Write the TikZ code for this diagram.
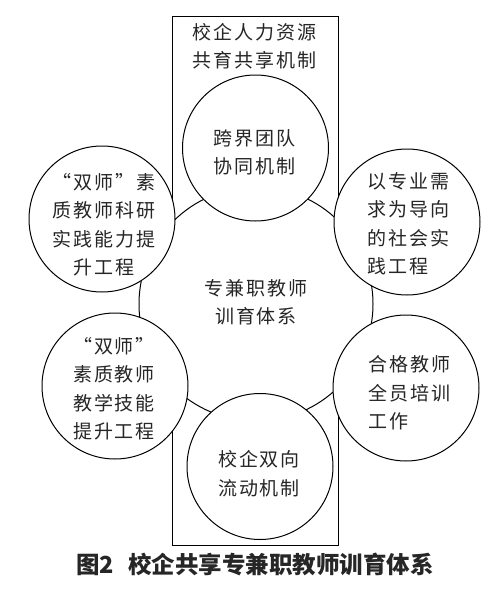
\documentclass[tikz,border=0pt]{standalone}
\usepackage{fontspec}
\setmainfont{Noto Sans CJK SC}[LetterSpace=10]
\newfontfamily\capfont{Noto Sans CJK SC}
\begin{document}
\begin{tikzpicture}[x=1pt,y=-1pt,line width=1pt,
  ring/.style={circle,draw=black,fill=white,inner sep=0pt,minimum size=146pt},
  hubring/.style={circle,draw=black,fill=white,inner sep=0pt,minimum size=234pt},
  lbl/.style={inner sep=0pt,font=\fontsize{19}{28.5}\selectfont,text=black!85},
  caplbl/.style={inner sep=0pt,font=\capfont\bfseries\fontsize{23.5}{28}\selectfont,text=black!85}]
\useasboundingbox (0,0) rectangle (500,589);
\fill[white] (0,0) rectangle (500,589);
% frame
\draw (172,16) rectangle (338,545);
% hub circle
\node[hubring] (hub) at (256,304) {};
% small circles
\node[ring] (top) at (255.5,148) {};
\node[ring] (ul) at (102,219) {};
\node[ring] (ur) at (407,222) {};
\node[ring] (ll) at (115,386) {};
\node[ring] (lr) at (406,388) {};
\node[ring] (bt) at (260,466.5) {};
% texts
\node[lbl,align=center] (ttl) at (254.5,46) {校企人力资源\\共育共享机制};
\node[lbl,align=center] (ttop) at (254.5,152.5) {跨界团队\\协同机制};
\node[lbl,align=center] (tul) at (104,224.5) {“双师”素\\质教师科研\\实践能力提\\升工程};
\node[lbl,align=left,anchor=west] (tur) at (367,223.5) {以专业需\\求为导向\\的社会实\\践工程};
\node[lbl,align=center] (thub) at (256,302.5) {专兼职教师\\训育体系};
\node[lbl,align=center] (tll) at (114,388.5) {“双师”\\素质教师\\教学技能\\提升工程};
\node[lbl,align=left,anchor=west] (tlr) at (368,393) {合格教师\\全员培训\\工作};
\node[lbl,align=center] (tbt) at (259,473.5) {校企双向\\流动机制};
% caption
\node[caplbl] (cap) at (255,564) {图2\hspace{0.6em}校企共享专兼职教师训育体系};
\end{tikzpicture}
\end{document}
